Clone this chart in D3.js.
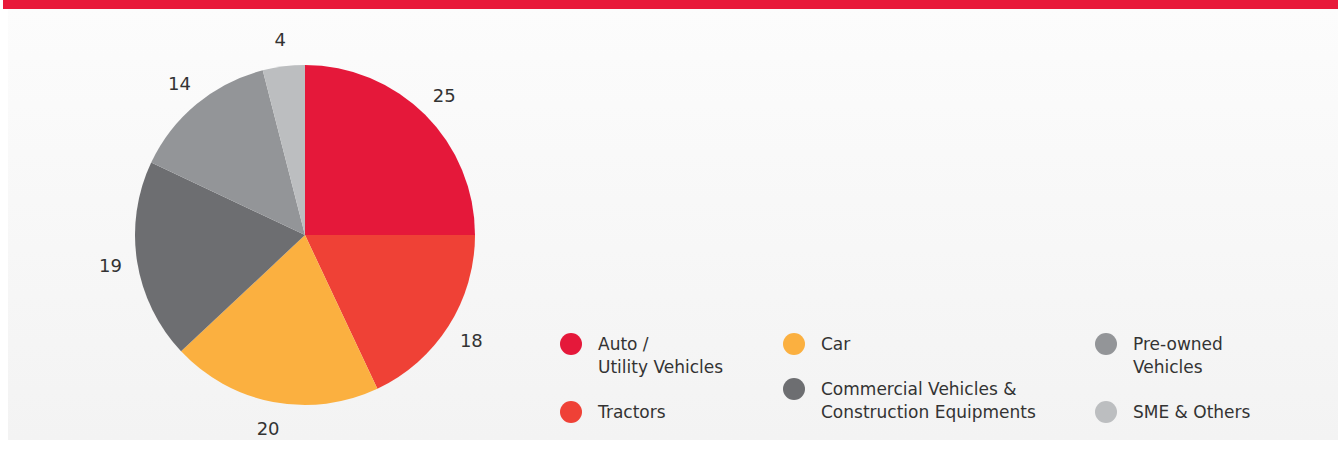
<!DOCTYPE html>
<html>
<head>
<meta charset="utf-8">
<script src="https://cdn.jsdelivr.net/npm/d3@7"></script>
<style>
  body { margin: 0; background: #fff; }
  svg text { font-family: "DejaVu Sans", sans-serif; fill: #333; }
</style>
</head>
<body>
<svg id="chart" width="1338" height="450"></svg>
<script>
// segment shares (%)
const categories = ['Auto / Utility Vehicles', 'Tractors', 'Car',
  'Commercial Vehicles & Construction Equipments', 'Pre-owned Vehicles', 'SME & Others'];
const values = [25, 18, 20, 19, 14, 4];
const colors = ['#e5183a', '#ef4136', '#fbb040', '#6d6e71', '#939598', '#bcbec0'];
// legend text lines, in legend order
const legendLines = [
  ['Auto /', 'Utility Vehicles'],
  ['Tractors'],
  ['Car'],
  ['Commercial Vehicles &', 'Construction Equipments'],
  ['Pre-owned', 'Vehicles'],
  ['SME & Others']
];

const svg = d3.select('#chart');
const W = 1338;

const defs = svg.append('defs');
const grad = defs.append('linearGradient')
  .attr('id', 'bg').attr('x1', 0).attr('y1', 0).attr('x2', 0).attr('y2', 1);
grad.append('stop').attr('offset', '0%').attr('stop-color', '#fcfcfc');
grad.append('stop').attr('offset', '100%').attr('stop-color', '#f3f3f3');

svg.append('rect').attr('x', 8).attr('y', 9).attr('width', W - 8).attr('height', 431)
  .attr('fill', 'url(#bg)');
svg.append('rect').attr('x', 3).attr('y', 0).attr('width', W - 3).attr('height', 9)
  .attr('fill', '#e8193a');

const cx = 305;
const cy = 235;
const r = 170;

const pie = d3.pie().sort(null).value(d => d);
const arcs = pie(values);
const arc = d3.arc().innerRadius(0).outerRadius(r);
const labelArc = d3.arc().innerRadius(197).outerRadius(197);

const g = svg.append('g').attr('transform', `translate(${cx},${cy})`);
g.selectAll('path')
  .data(arcs)
  .enter().append('path')
  .attr('d', arc)
  .attr('fill', (d, i) => colors[i]);

g.selectAll('text.val')
  .data(arcs)
  .enter().append('text')
  .attr('class', 'val')
  .attr('transform', d => `translate(${labelArc.centroid(d)})`)
  .attr('text-anchor', 'middle')
  .attr('dy', '.35em')
  .style('font-size', '18px')
  .text(d => d.data);

// legend: 3 columns x 2 rows
const colX = [571, 794, 1106];
const rowY = [[344, 412], [344, 389], [344, 412]];
const legend = svg.append('g');
legendLines.forEach((lines, i) => {
  const col = Math.floor(i / 2);
  const row = i % 2;
  const x = colX[col];
  const y = rowY[col][row];
  legend.append('circle')
    .attr('cx', x).attr('cy', y).attr('r', 11)
    .attr('fill', colors[i]);
  const t = legend.append('text')
    .attr('x', x + 27).attr('y', y)
    .style('font-size', '17px');
  lines.forEach((line, j) => {
    t.append('tspan').attr('x', x + 27).attr('dy', j === 0 ? '.35em' : '23px').text(line);
  });
});
</script>
</body>
</html>
